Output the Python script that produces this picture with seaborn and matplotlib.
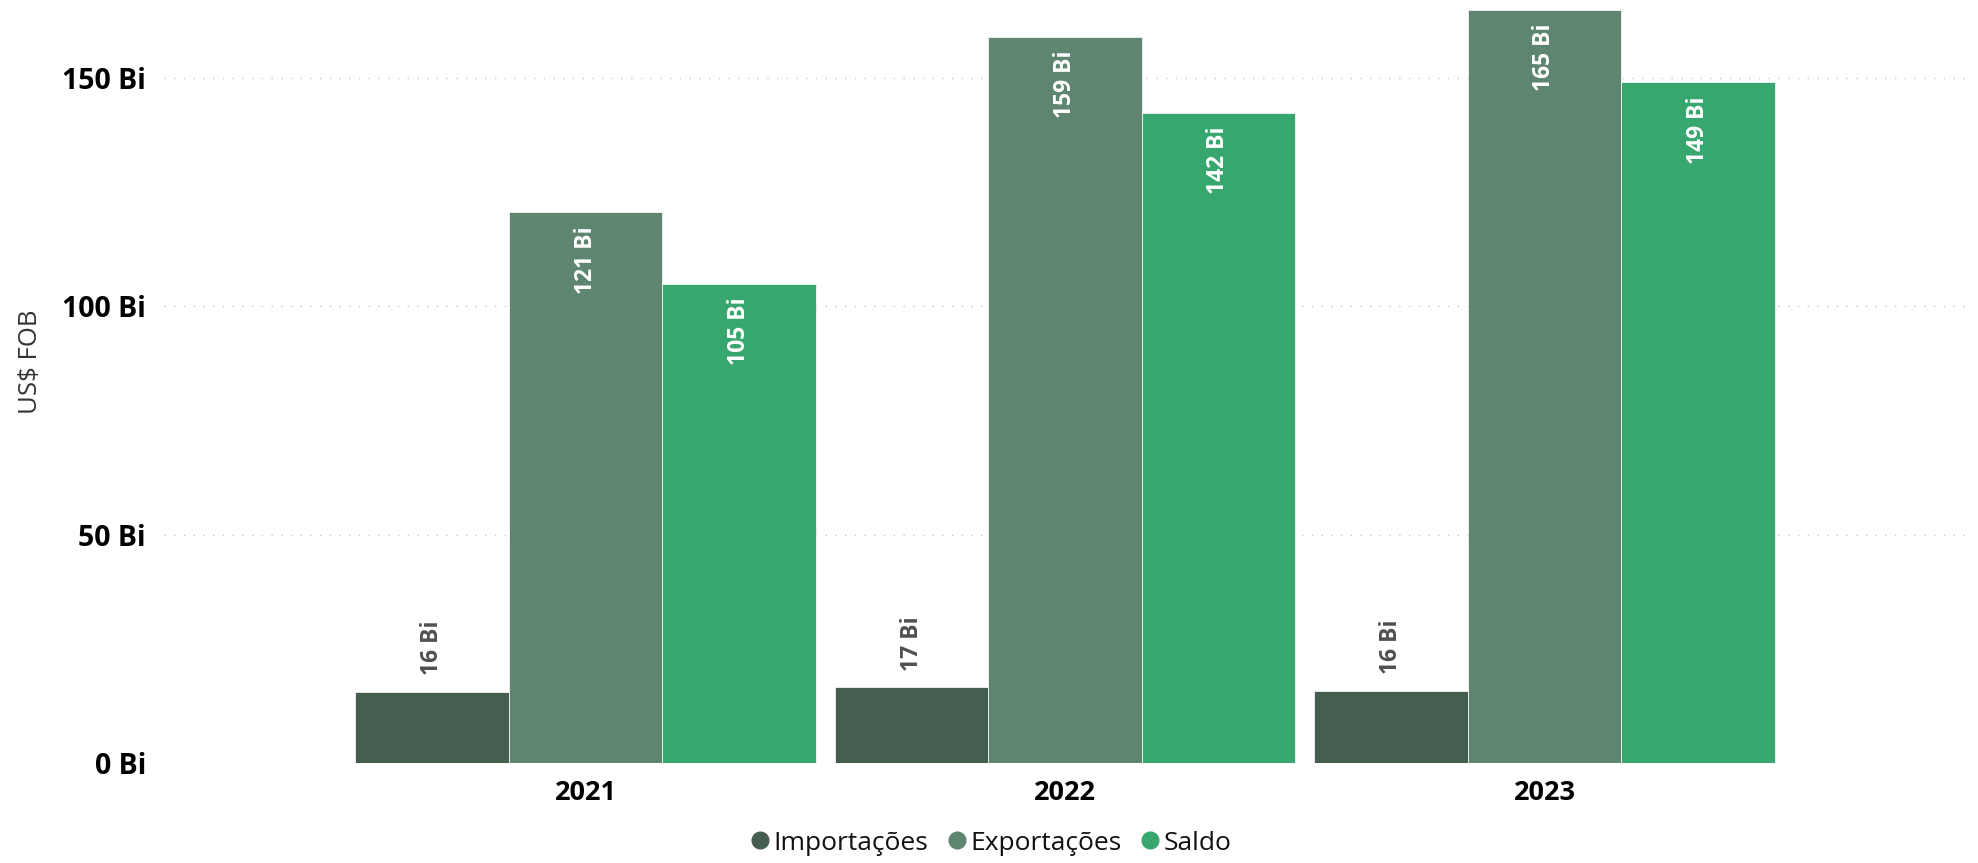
import matplotlib
matplotlib.use("Agg")
import matplotlib.pyplot as plt
import seaborn as sns
import pandas as pd
from matplotlib.lines import Line2D

# ---- data ----
anos = ["2021", "2022", "2023"]
series = ["Importações", "Exportações", "Saldo"]
importacoes = [15.6, 16.6, 15.8]
exportacoes = [120.6, 159.0, 164.9]
saldo = [105.0, 142.4, 149.1]
yticks = [0, 50, 100, 150]
ytick_labels = ["0 Bi", "50 Bi", "100 Bi", "150 Bi"]
colors = ["#465E50", "#5E8570", "#37A76F"]

df = pd.DataFrame({
    "Ano": anos * 3,
    "Serie": [series[0]] * 3 + [series[1]] * 3 + [series[2]] * 3,
    "Valor": importacoes + exportacoes + saldo,
})

sns.set_theme(style="white")
plt.rcParams["font.family"] = ["Open Sans", "DejaVu Sans"]

fig = plt.figure(figsize=(19.78, 8.63), dpi=100)
ax = fig.add_axes([0.083, 0.1159, 0.914, 0.8783])

sns.barplot(data=df, x="Ano", y="Valor", hue="Serie", order=anos,
            hue_order=series, palette=colors, width=0.96, ax=ax,
            edgecolor="#f4f4f4", linewidth=0.6, legend=False, saturation=1)

ax.set_xlim(-0.879, 2.892)
ax.set_ylim(0, 166)
ax.set_yticks(yticks)
ax.set_yticklabels(ytick_labels)
for y in yticks:
    ax.axhline(y, color="#c8c8c8", lw=1.0, ls=(0, (1, 6)), zorder=0)

for s in ax.spines.values():
    s.set_visible(False)
ax.tick_params(axis="both", length=0)
ax.tick_params(axis="y", pad=13, labelsize=20.5)
ax.tick_params(axis="x", pad=12, labelsize=19.5)
for t in ax.get_yticklabels() + ax.get_xticklabels():
    t.set_fontweight("bold")
    t.set_color("#000000")
ax.set_xlabel("")
ax.set_ylabel("US$ FOB", fontsize=18.5, color="#333333", labelpad=14)
ax.yaxis.label.set_y(0.53)

# value labels
for i, cont in enumerate(ax.containers):
    for rect in cont:
        x = rect.get_x() + rect.get_width() / 2
        h = rect.get_height()
        txt = f"{round(h):d} Bi"
        if i == 0:
            ax.annotate(txt, (x, h), xytext=(0, 12), textcoords="offset points",
                        rotation=90, ha="center", va="bottom", fontsize=16.5,
                        fontweight="bold", color="#505050")
        else:
            ax.annotate(txt, (x, h), xytext=(0, -10), textcoords="offset points",
                        rotation=90, ha="center", va="top", fontsize=16.5,
                        fontweight="bold", color="white")

handles = [Line2D([0], [0], marker="o", ls="", markersize=12,
                  markerfacecolor=c, markeredgecolor=c) for c in colors]
leg = fig.legend(handles, series, loc="center", bbox_to_anchor=(0.5, 0.023),
                 ncol=3, frameon=False, fontsize=19, handletextpad=0.0,
                 columnspacing=0.6, handlelength=1.0)
for t in leg.get_texts():
    t.set_color("#111111")

fig.savefig("out.png", dpi=100)
